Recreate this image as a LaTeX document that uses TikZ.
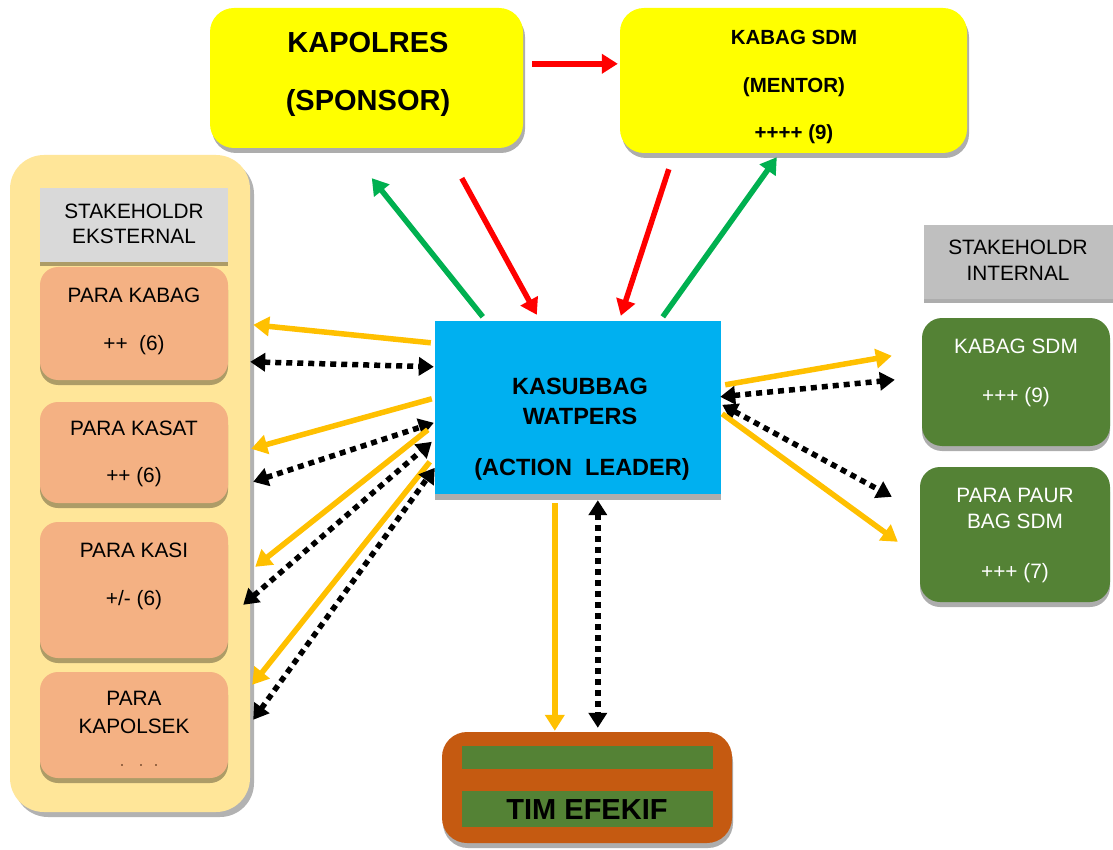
\documentclass[tikz,border=0pt]{standalone}
\usepackage{fontspec}
\setmainfont{Liberation Sans}
\usetikzlibrary{arrows.meta,shadows,calc}
\definecolor{yel}{HTML}{FFFF00}
\definecolor{paleyel}{HTML}{FFE699}
\definecolor{salmon}{HTML}{F4B183}
\definecolor{hdrext}{HTML}{D9D9D9}
\definecolor{hdrint}{HTML}{BFBFBF}
\definecolor{grn}{HTML}{548235}
\definecolor{sky}{HTML}{00B0F0}
\definecolor{brown}{HTML}{C55A11}
\definecolor{ared}{HTML}{FF0000}
\definecolor{agreen}{HTML}{00B050}
\definecolor{ayel}{HTML}{FFC000}
\begin{document}
\begin{tikzpicture}[x=1pt,y=-1pt,
  box/.style={rectangle,inner sep=0pt,draw=none},
  shad/.style={drop shadow={shadow xshift=#1,shadow yshift=-5pt,fill=black,opacity=0.32}},
  shad/.default=2pt,
  ybox/.style={box,fill=yel,rounded corners=24pt,shad},
  sbox/.style={box,fill=salmon,rounded corners=18pt,shad=0pt},
  gbox/.style={box,fill=grn,rounded corners=20pt,shad=0pt},
  hbox/.style={box,drop shadow={shadow xshift=0pt,shadow yshift=-4pt,fill=black,opacity=0.32}},
  tx/.style={inner sep=0pt,font=\fontsize{20.8}{25}\selectfont,text height=14.9pt,text depth=0pt},
  bxA/.style={inner sep=0pt,font=\fontsize{29}{34}\selectfont\bfseries,text height=20.8pt,text depth=0pt},
  bxB/.style={inner sep=0pt,font=\fontsize{20.5}{24}\selectfont\bfseries,text height=14.7pt,text depth=0pt},
  bxC/.style={inner sep=0pt,font=\fontsize{23.5}{28}\selectfont\bfseries,text height=16.8pt,text depth=0pt},
  arr/.style={line width=5.5pt,-{Triangle[length=16pt,width=19pt]}},
  redarr/.style={arr,draw=ared},
  grnarr/.style={arr,draw=agreen},
  yarr/.style={arr,draw=ayel},
  dotarr/.style={line width=5.5pt,draw=black,dash pattern=on 6pt off 5pt,{Triangle[length=15pt,width=18pt]}-{Triangle[length=15pt,width=18pt]}}
]
\fill[white] (0,0) rectangle (1113,850);
\useasboundingbox (0,0) rectangle (1113,850);

% top boxes
\node[ybox,minimum width=313pt,minimum height=140pt] (kapolres) at (366.5,78) {};
\node[ybox,minimum width=347pt,minimum height=145pt] (mentor) at (793.5,80.5) {};
\node[bxA] at (368,42) {KAPOLRES};
\node[bxA] at (368,100) {(SPONSOR)};
\node[bxB] at (794,37) {KABAG SDM};
\node[bxB] at (794,85) {(MENTOR)};
\node[bxB] at (794,132) {++++ (9)};

% external stakeholders
\node[box,fill=paleyel,rounded corners=34pt,minimum width=240pt,minimum height=657pt,
  drop shadow={shadow xshift=4pt,shadow yshift=-5pt,fill=black,opacity=0.3}] (ext) at (130,483.5) {};
\node[hbox,fill=hdrext,minimum width=188pt,minimum height=74pt] (exthdr) at (134,225) {};
\node[tx] at (134,211) {STAKEHOLDR};
\node[tx] at (134,236) {EKSTERNAL};
\node[sbox,minimum width=188pt,minimum height=113pt] (kabag) at (134,323.5) {};
\node[tx] at (134,295) {PARA KABAG};
\node[tx] at (134,343) {++\ \ (6)};
\node[sbox,minimum width=188pt,minimum height=101pt] (kasat) at (134,452.5) {};
\node[tx] at (134,428) {PARA KASAT};
\node[tx] at (134,475) {++ (6)};
\node[sbox,minimum width=188pt,minimum height=136pt] (kasi) at (134,590) {};
\node[tx] at (134,550) {PARA KASI};
\node[tx] at (134,598) {+/- (6)};
\node[sbox,minimum width=188pt,minimum height=106pt] (kapolsek) at (134,725) {};
\node[tx] at (134,698) {PARA};
\node[tx] at (134,726) {KAPOLSEK};
\foreach \xx in {122,141,156} \fill[black!70!brown] (\xx,765) circle (0.9pt);

% internal stakeholders
\node[hbox,fill=hdrint,minimum width=189pt,minimum height=74pt] (inthdr) at (1018.5,262) {};
\node[tx] at (1018,247) {STAKEHOLDR};
\node[tx] at (1018,273) {INTERNAL};
\node[gbox,minimum width=188pt,minimum height=128pt] (sdm) at (1016,382) {};
\node[tx,text=white] at (1016,346) {KABAG SDM};
\node[tx,text=white] at (1016,395) {+++ (9)};
\node[gbox,minimum width=190pt,minimum height=135pt] (paur) at (1015,534.5) {};
\node[tx,text=white] at (1015,495) {PARA PAUR};
\node[tx,text=white] at (1015,521) {BAG SDM};
\node[tx,text=white] at (1015,571) {+++ (7)};

% action leader
\node[box,fill=sky,minimum width=286pt,minimum height=173pt,
  drop shadow={shadow xshift=0pt,shadow yshift=-6pt,fill=black!32,opacity=1}] (leader) at (578,407.5) {};
\node[bxC] at (580,386) {KASUBBAG};
\node[bxC] at (580,416) {WATPERS};
\node[bxC] at (582,467) {(ACTION\ \ LEADER)};

% tim efektif
\node[box,fill=brown,rounded corners=25pt,minimum width=290pt,minimum height=111pt,
  drop shadow={shadow xshift=1pt,shadow yshift=-5pt,fill=black!32,opacity=1}] (tim) at (587,787.5) {};
\node[box,fill=grn,minimum width=251pt,minimum height=23pt] (bar1) at (587.5,757.5) {};
\node[box,fill=grn,minimum width=251pt,minimum height=36pt] (bar2) at (587.5,809) {};
\node[bxA] at (587,809) {TIM EFEKIF};

% top arrows
\draw[redarr] ($(kapolres.north east)+(9,56)$) -- ($(mentor.north west)+(-2,56)$);
\draw[grnarr] ($(leader.north west)+(48,-4)$) -- ($(kapolres.south west)+(162,30)$);
\draw[redarr] ($(kapolres.south west)+(252,30)$) -- ($(leader.north west)+(102,-6)$);
\draw[redarr] ($(mentor.south west)+(49,16)$) -- ($(leader.north west)+(186,-5)$);
\draw[grnarr] ($(leader.north west)+(228,-4)$) -- ($(mentor.south west)+(157,4)$);

% left arrows
\draw[yarr] ($(leader.north west)+(-4,22)$) -- ($(kabag.north east)+(25,58)$);
\draw[dotarr] ($(kabag.north east)+(22,95)$) -- ($(leader.north west)+(-1,46)$);
\draw[yarr] ($(leader.north west)+(-3,78)$) -- ($(kasat.north east)+(23,47)$);
\draw[dotarr] ($(kasat.north east)+(25,80)$) -- ($(leader.north west)+(-1,102)$);
\draw[yarr] ($(leader.north west)+(-7,109)$) -- ($(kasi.north east)+(27,45)$);
\draw[dotarr] ($(kasi.north east)+(15,83)$) -- ($(leader.north west)+(-3,121)$);
\draw[yarr] ($(leader.north west)+(-5,141)$) -- ($(kapolsek.north east)+(24,13)$);
\draw[dotarr] ($(kapolsek.north east)+(25,48)$) -- ($(leader.north west)+(0,147)$);

% down arrows
\draw[yarr] ($(leader.south west)+(120,9)$) -- ($(tim.north west)+(113,-1)$);
\draw[dotarr] ($(leader.south west)+(163,6)$) -- ($(tim.north west)+(156,-4)$);

% right arrows
\draw[yarr] ($(leader.north east)+(4,64)$) -- ($(sdm.north west)+(-30,38)$);
\draw[dotarr] ($(leader.north east)+(-1,76)$) -- ($(sdm.north west)+(-27,62)$);
\draw[dotarr] ($(leader.north east)+(1,84)$) -- ($(paur.north west)+(-28,30)$);
\draw[yarr] ($(leader.north east)+(1,93)$) -- ($(paur.north west)+(-22,75)$);
\end{tikzpicture}
\end{document}
